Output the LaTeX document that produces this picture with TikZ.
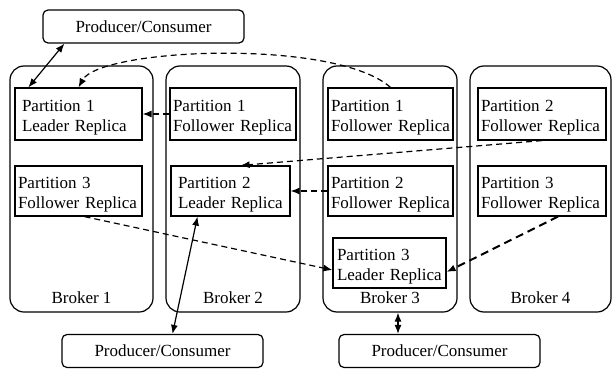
\documentclass[tikz,border=0pt]{standalone}
\usepackage{fontspec}
\setmainfont{Liberation Serif}
\usetikzlibrary{arrows.meta}

\tikzset{
  broker/.style={draw, rounded corners=14pt, line width=1.2pt,
    minimum width=#1, minimum height=246pt, inner sep=0pt},
  client/.style={draw, rounded corners=5pt, line width=1.2pt,
    minimum width=201pt, minimum height=33pt, inner sep=0pt},
  replica/.style={draw, line width=1.2pt, align=left, text width=#1,
    minimum height=50pt, inner ysep=0pt, inner xsep=3pt,
    execute at begin node=\rule{0pt}{19pt}},
  repl/.style={->, line width=1.2pt, dash pattern=on 6pt off 4pt},
  link/.style={<->, line width=1.2pt}
}

\begin{document}
\begin{tikzpicture}[x=1pt, y=-1pt, >={Latex[length=9pt,width=7pt]},
    font=\fontsize{17}{20.5}\selectfont]
    \useasboundingbox (0,0) rectangle (612,369);

    % brokers
    \node[broker=143pt] (b1) at (81.5,189) {};
    \node[broker=134pt] (b2) at (233,189) {};
    \node[broker=134pt] (b3) at (390,189) {};
    \node[broker=141pt] (b4) at (540.5,189) {};
    \node (b1l) at (81.5,298) {Broker 1};
    \node (b2l) at (233,298) {Broker 2};
    \node (b3l) at (390,298) {Broker 3};
    \node (b4l) at (540.5,298) {Broker 4};

    % replicas
    \node[replica=113pt, inner xsep=7pt, minimum height=52pt] (b1p1) at (78.5,114) {Partition 1\\Leader Replica};
    \node[replica=120pt, minimum height=52pt] (b2p1) at (233,114) {Partition 1\\Follower Replica};
    \node[replica=119pt, minimum height=52pt] (b3p1) at (390.5,114) {Partition 1\\Follower Replica};
    \node[replica=122pt, minimum height=52pt] (b4p2) at (542,114) {Partition 2\\Follower Replica};
    \node[replica=121pt] (b1p3) at (78.5,191) {Partition 3\\Follower Replica};
    \node[replica=105pt, inner xsep=7pt] (b2p2) at (230.5,191) {Partition 2\\Leader Replica};
    \node[replica=119pt] (b3p2) at (390.5,191) {Partition 2\\Follower Replica};
    \node[replica=122pt] (b4p3) at (542,191) {Partition 3\\Follower Replica};
    \node[replica=105pt, inner xsep=4pt] (b3p3) at (389.5,263) {Partition 3\\Leader Replica};

    % clients
    \node[client] (pc1) at (143.5,26.5) {Producer/Consumer};
    \node[client] (pc2) at (162.5,351) {Producer/Consumer};
    \node[client] (pc3) at (439.5,351) {Producer/Consumer};

    \draw[link] ([xshift=22pt]pc1.south west) -- ([xshift=14pt]b1p1.north west);
    \draw[link] ([xshift=10pt]pc2.north) -- ([xshift=-33pt]b2p2.south);
    \draw[link] ([xshift=8pt]b3.south) -- ([xshift=-41.5pt]pc3.north);

    \draw[repl] (b3p1.north) .. controls (335,38) and (100,48) .. (b1p1.north);
    \draw[repl] (b2p1.west) -- (b1p1.east);
    \draw[repl] (b4p2.south) -- ([xshift=-50pt]b2p2.north east);
    \draw[repl] (b3p2.west) -- (b2p2.east);
    \draw[repl] ([xshift=6pt]b1p3.south) -- ([yshift=-7pt]b3p3.west);
    \draw[repl, line width=2pt, dash pattern=on 8pt off 5pt] ([xshift=16pt]b4p3.south) -- ([yshift=-9pt]b3p3.east);
\end{tikzpicture}
\end{document}
